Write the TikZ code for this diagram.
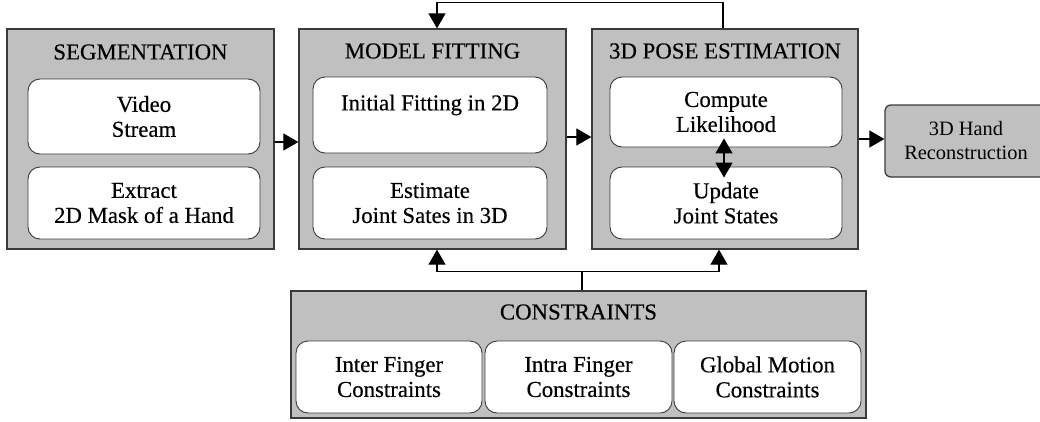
\documentclass[tikz,border=0pt]{standalone}
\usepackage{fontspec}
\setmainfont{Liberation Serif}[FakeBold=0.4]
\newfontfamily\lightserif{Liberation Serif}
\usetikzlibrary{arrows.meta}
\definecolor{boxgray}{HTML}{C0C0C0}
\definecolor{edgec}{HTML}{3A3A3A}
\begin{document}
\begin{tikzpicture}[x=1pt,y=-1pt,
  font=\fontsize{22.8}{25}\selectfont,
  outerbox/.style={draw=edgec,fill=boxgray,line width=1.3pt,inner sep=0pt},
  innerbox/.style={draw=edgec,fill=white,line width=0.9pt,rounded corners=12pt,inner sep=0pt,align=center},
  titlebox/.style={inner sep=0pt},
  arr/.style={draw=black,line width=1.2pt,-{Triangle[length=15pt,width=17pt]}},
  arrtwo/.style={draw=black,line width=1.2pt,{Triangle[length=15pt,width=17pt]}-{Triangle[length=15pt,width=17pt]}},
  plain/.style={draw=black,line width=1.2pt}]
\useasboundingbox (0,0) rectangle (1040,421);
% outer boxes
\node[outerbox,minimum width=267pt,minimum height=220pt] (seg) at (140.5,139) {};
\node[outerbox,minimum width=267pt,minimum height=220pt] (mf) at (432.5,139) {};
\node[outerbox,minimum width=266pt,minimum height=220pt] (pose) at (725,139) {};
\node[outerbox,minimum width=575pt,minimum height=127pt] (cons) at (578.5,354.5) {};
\node[outerbox,rounded corners=6pt,minimum width=162pt,minimum height=72pt,align=center,
  font=\lightserif\fontsize{20.4}{24}\selectfont] (hand) at (966,141) {3D Hand\\Reconstruction};
% titles
\node[titlebox] (segT) at (140.5,52) {SEGMENTATION};
\node[titlebox] (mfT) at (432.5,51) {MODEL FITTING};
\node[titlebox] (poseT) at (725,51) {3D POSE ESTIMATION};
\node[titlebox] (consT) at (578.5,312) {CONSTRAINTS};
% inner boxes
\node[innerbox,minimum width=232pt,minimum height=75pt] (seg1) at (144,116.5) {Video\\Stream};
\node[innerbox,minimum width=232pt,minimum height=72pt] (seg2) at (144,203) {Extract\\2D Mask of a Hand};
\node[innerbox,minimum width=234pt,minimum height=76pt] (mf1) at (430,115) {Initial Fitting in 2D\\\mbox{}};
\node[innerbox,minimum width=234pt,minimum height=72pt] (mf2) at (430,203) {Estimate\\Joint Sates in 3D};
\node[innerbox,minimum width=232pt,minimum height=70pt] (pose1) at (726,112) {Compute\\Likelihood};
\node[innerbox,minimum width=232pt,minimum height=72pt] (pose2) at (726,203) {Update\\Joint States};
\node[innerbox,minimum width=186pt,minimum height=72pt] (cons1) at (389,377) {Inter Finger\\Constraints};
\node[innerbox,minimum width=187pt,minimum height=72pt] (cons2) at (578.5,377) {Intra Finger\\Constraints};
\node[innerbox,minimum width=187pt,minimum height=72pt] (cons3) at (767.5,377) {Global Motion\\Constraints};
% connectors
\draw[arr] (seg.east |- 0,142) -- (mf.west |- 0,142);
\draw[arr] (mf.east |- 0,137) -- (pose.west |- 0,137);
\draw[arr] (pose.east |- 0,139) -- (hand.west |- 0,139);
\draw[arrtwo] ([xshift=-2pt,yshift=9pt]pose1.south) -- ([xshift=-2pt,yshift=-11pt]pose2.north);
\draw[arr] ([xshift=-2pt]pose.north) -- ++(0,-26) -| ([xshift=4.5pt]mf.north);
\draw[plain] ([xshift=3.5pt]cons.north) -- ++(0,-19) coordinate (j);
\draw[arr] (j) -| ([xshift=4.5pt]mf.south);
\draw[arr] (j) -| ([xshift=-6pt]pose.south);
\end{tikzpicture}
\end{document}
